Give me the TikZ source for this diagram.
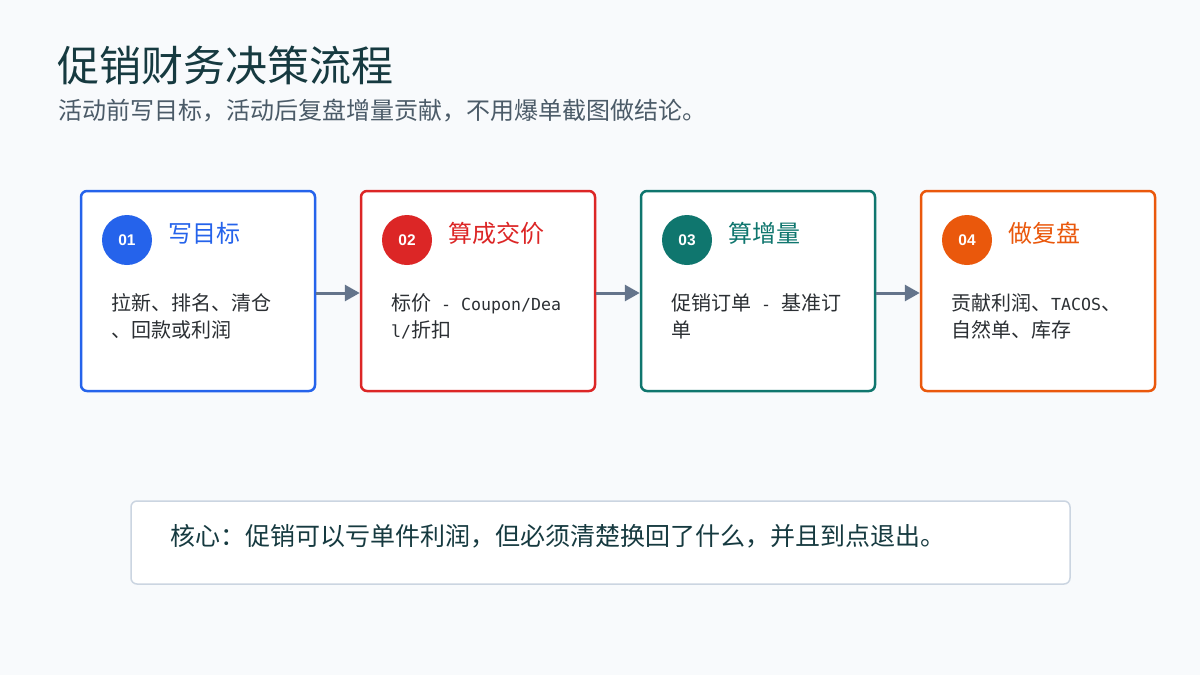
\documentclass[tikz,border=0pt]{standalone}
\usepackage{fontspec}
\setmainfont{Noto Sans CJK SC}
\newfontfamily\cjk{Noto Sans CJK SC}
\newfontfamily\monofont{DejaVu Sans Mono}
\newfontfamily\numfont{Liberation Sans}
\usetikzlibrary{arrows.meta}
\definecolor{bg}{HTML}{F8FAFC}
\definecolor{cA}{HTML}{2563EB}
\definecolor{cB}{HTML}{DC2626}
\definecolor{cC}{HTML}{0F766E}
\definecolor{cD}{HTML}{EA580C}
\definecolor{titlec}{HTML}{163A40}
\definecolor{subc}{HTML}{4B5B68}
\definecolor{bodyc}{HTML}{2B2F33}
\definecolor{arrowc}{HTML}{64748B}
\definecolor{noteborder}{HTML}{CBD5E1}
\newcommand{\lat}[1]{{\monofont\fontsize{16.6}{27}\selectfont #1}}
\tikzset{
  stepbox/.style={draw, line width=2.5pt, fill=white, rounded corners=6pt, minimum width=234pt, minimum height=200pt, inner sep=0pt},
  numdot/.style={circle, minimum size=50pt, inner sep=0pt, text=white, font=\numfont\bfseries\fontsize{15.5}{17}\selectfont},
  steptitle/.style={anchor=base west, inner sep=0pt, font=\cjk\fontsize{24}{28}\selectfont},
  stepbody/.style={anchor=base west, inner sep=0pt, align=left, text=bodyc, font=\cjk\fontsize{20}{27}\selectfont},
  flow/.style={draw=arrowc, line width=3pt, -{Triangle[length=15pt,width=16pt]}},
}
\begin{document}
\begin{tikzpicture}[x=1pt,y=-1pt]
\fill[bg] (0,0) rectangle (1200,675);
\useasboundingbox (0,0) rectangle (1200,675);

\node[anchor=base west, inner sep=0pt, text=titlec, font=\cjk\fontsize{42}{48}\selectfont] (title) at (57,81) {促销财务决策流程};
\node[anchor=base west, inner sep=0pt, text=subc, font=\cjk\fontsize{24}{28}\selectfont] (subtitle) at (58,119) {活动前写目标，活动后复盘增量贡献，不用爆单截图做结论。};

% boxes
\node[stepbox, draw=cA] (b1) at (198,291) {};
\node[stepbox, draw=cB] (b2) at (478,291) {};
\node[stepbox, draw=cC] (b3) at (758,291) {};
\node[stepbox, draw=cD] (b4) at (1038,291) {};

\node[numdot, fill=cA] (n1) at (127,240) {01};
\node[numdot, fill=cB] (n2) at (407,240) {02};
\node[numdot, fill=cC] (n3) at (687,240) {03};
\node[numdot, fill=cD] (n4) at (967,240) {04};

\node[steptitle, text=cA] (t1) at (168,242) {写目标};
\node[steptitle, text=cB] (t2) at (448,242) {算成交价};
\node[steptitle, text=cC] (t3) at (728,242) {算增量};
\node[steptitle, text=cD] (t4) at (1008,242) {做复盘};

\node[stepbody] (d1) at (111,337) {拉新、排名、清仓\\、回款或利润};
\node[stepbody] (d2) at (391,337) {标价\lat{ - Coupon/Dea}\\\lat{l/}折扣};
\node[stepbody] (d3) at (671,337) {促销订单\lat{ - }基准订\\单};
\node[stepbody] (d4) at (951,337) {贡献利润、\lat{TACOS}、\\自然单、库存};

\draw[flow] (b1.east |- 0,293) -- (b2.west |- 0,293);
\draw[flow] (b2.east |- 0,293) -- (b3.west |- 0,293);
\draw[flow] (b3.east |- 0,293) -- (b4.west |- 0,293);

% note
\node[draw=noteborder, line width=1.5pt, fill=white, rounded corners=6pt, minimum width=939pt, minimum height=83pt, inner sep=0pt] (note) at (600.5,542.5) {};
\node[anchor=base west, inner sep=0pt, text=titlec, font=\cjk\fontsize{25}{30}\selectfont] (notetext) at (170,545) {核心：促销可以亏单件利润，但必须清楚换回了什么，并且到点退出。};
\end{tikzpicture}
\end{document}
